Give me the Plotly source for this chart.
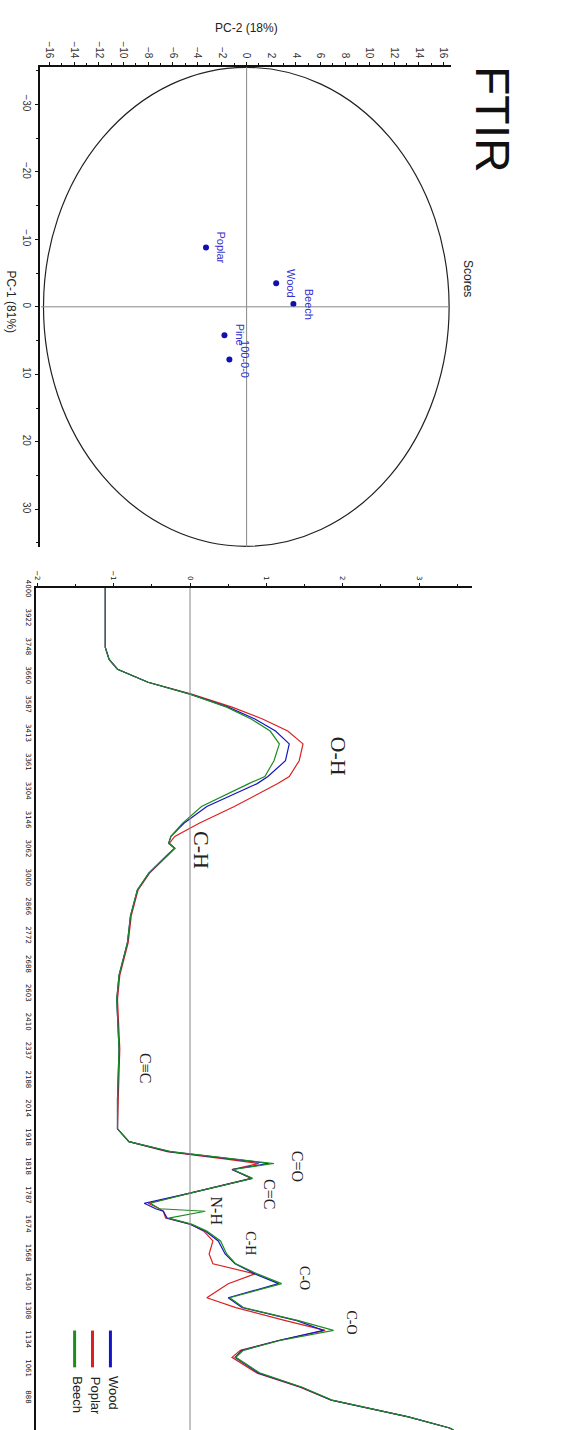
import plotly.graph_objects as go

W, H = 562, 1430

# ---------------- PCA scores data ----------------
score_names = ["Poplar", "Wood", "Beech", "Pine", "100-0-0"]
pc2_scores = [-3.3, 2.4, 3.8, -1.8, -1.4]
pc1_scores = [-8.8, -3.5, -0.4, 4.2, 7.8]

# ---------------- FTIR spectra data ----------------
wavenumber = [4000, 3763, 3715, 3676, 3624, 3577, 3525, 3478, 3430, 3379, 3312, 3249, 3221,
              3130, 3063, 3011, 2984, 2964, 2936, 2865, 2798, 2695, 2588, 2458, 2363, 2165,
              1967, 1848, 1797, 1757, 1726, 1710, 1686, 1651, 1592, 1552, 1530, 1520, 1493,
              1469, 1441, 1402, 1350, 1311, 1271, 1232, 1176, 1137, 1085, 1046, 1006, 967,
              939, 876, 820, 769, 702, 658, 650]
wood = [-1.11, -1.11, -1.06, -0.95, -0.55, 0.0, 0.50, 0.85, 1.12, 1.30, 1.25, 1.02, 0.88,
        0.22, -0.08, -0.25, -0.28, -0.20, -0.30, -0.54, -0.69, -0.78, -0.82, -0.93, -0.96, -0.93,
        -0.95, -0.95, -0.80, -0.27, 0.59, 1.03, 0.55, 0.81, 0.0, -0.60, -0.45, -0.35, -0.30,
        0.0, 0.20, 0.37, 0.46, 0.59, 0.85, 1.16, 0.50, 0.68, 1.40, 1.75, 1.16, 0.68,
        0.59, 0.90, 1.46, 1.85, 2.86, 3.40, 3.45]
poplar = [-1.11, -1.11, -1.06, -0.95, -0.55, 0.02, 0.55, 0.95, 1.28, 1.48, 1.43, 1.30, 1.15,
          0.58, 0.12, -0.20, -0.27, -0.20, -0.29, -0.53, -0.68, -0.77, -0.81, -0.92, -0.95, -0.92,
          -0.94, -0.95, -0.80, -0.30, 0.50, 0.90, 0.55, 0.80, 0.0, -0.55, -0.40, -0.35, -0.32,
          0.0, 0.18, 0.30, 0.25, 0.30, 0.85, 0.50, 0.22, 0.60, 1.25, 1.77, 1.16, 0.66,
          0.55, 0.88, 1.44, 1.85, 2.86, 3.40, 3.45]
beech = [-1.11, -1.11, -1.06, -0.95, -0.55, 0.0, 0.48, 0.80, 1.05, 1.17, 1.10, 0.98, 0.77,
         0.15, -0.10, -0.25, -0.28, -0.20, -0.30, -0.54, -0.69, -0.78, -0.82, -0.93, -0.96, -0.93,
         -0.95, -0.95, -0.80, -0.25, 0.62, 1.10, 0.56, 0.82, 0.0, -0.52, -0.40, 0.20, -0.28,
         0.02, 0.22, 0.40, 0.48, 0.60, 0.88, 1.20, 0.52, 0.70, 1.42, 1.88, 1.18, 0.70,
         0.60, 0.92, 1.47, 1.86, 2.86, 3.40, 3.45]

series_names = ["Wood", "Poplar", "Beech"]
series_colors = ["#1414c8", "#dc2020", "#1e8c1e"]

wn_tick_labels = ["4000", "3922", "3748", "3660", "3587", "3413", "3361", "3304", "3146", "3062",
                  "3000", "2866", "2772", "2688", "2603", "2410", "2337", "2188", "2014", "1918",
                  "1818", "1787", "1674", "1568", "1430", "1308", "1134", "1061", "888", "748"]

# band assignments: (label, x value, wavenumber, font size)
band_text = ["O-H", "C-H", "C\u2261C", "C=O", "C=C", "N-H", "C-H", "C-O", "C-O"]
band_xval = [1.94, 0.16, -0.59, 1.41, 1.04, 0.35, 0.78, 1.49, 2.11]
band_wn = [3332, 2956, 2090, 1698, 1587, 1520, 1394, 1255, 1077]
band_size = [22, 22, 16, 16, 16, 16, 14, 14, 14]


def px_x(px):
    return px / W


def px_y(py):
    return 1 - py / H


fig = go.Figure()


def paper_text(text, xp, yp, size, angle=90, family="Arial", color="#222"):
    fig.add_annotation(x=px_x(xp), y=px_y(yp), xref="paper", yref="paper", text=text,
                       showarrow=False, textangle=angle, xanchor="center", yanchor="middle",
                       font=dict(family=family, size=size, color=color))


# ---- PCA scores ----
fig.add_trace(go.Scatter(x=pc2_scores, y=pc1_scores, mode="markers",
                         marker=dict(color="#1010b0", size=6), xaxis="x", yaxis="y",
                         showlegend=False, hoverinfo="skip"))
for nm, x, y in zip(score_names, pc2_scores, pc1_scores):
    fig.add_annotation(x=x, y=y, xref="x", yref="y", text=nm, showarrow=False,
                       textangle=90, xshift=15, xanchor="center", yanchor="middle",
                       font=dict(family="Arial", size=11, color="#3030d0"))

# ellipse and cross lines
fig.add_shape(type="circle", xref="x", yref="y", x0=-16.5, x1=16.45, y0=-35.5, y1=35.5,
              line=dict(color="#222", width=1.2))
fig.add_shape(type="line", xref="x", yref="y", x0=0, x1=0, y0=-35.6, y1=35.6,
              line=dict(color="#888", width=1))
fig.add_shape(type="line", xref="x", yref="y", x0=-16.7, x1=16.45, y0=0, y1=0,
              line=dict(color="#888", width=1))

# ---- FTIR spectra ----
order = [1, 0, 2]
all_vals = [wood, poplar, beech]
for i in order:
    fig.add_trace(go.Scatter(x=all_vals[i], y=wavenumber, mode="lines",
                             line=dict(color=series_colors[i], width=1.2),
                             xaxis="x2", yaxis="y2", showlegend=False, hoverinfo="skip"))
fig.add_shape(type="line", xref="x2", yref="y2", x0=0, x1=0, y0=650, y1=4000,
              line=dict(color="#888", width=1))

for t, xv, yv, fs in zip(band_text, band_xval, band_wn, band_size):
    fig.add_annotation(x=xv, y=yv, xref="x2", yref="y2", text=t, showarrow=False, textangle=90,
                       xanchor="center", yanchor="middle",
                       font=dict(family="Liberation Serif", size=fs, color="#222"))

# legend drawn manually (rotated)
leg_x = [108, 90, 72]
for nm, col, lx in zip(series_names, series_colors, leg_x):
    fig.add_shape(type="line", xref="paper", yref="paper", x0=px_x(lx), x1=px_x(lx),
                  y0=px_y(1330), y1=px_y(1367), line=dict(color=col, width=3))
    fig.add_annotation(x=px_x(lx + 3), y=px_y(1374), xref="paper", yref="paper", text=nm,
                       showarrow=False, textangle=90, xanchor="center", yanchor="top",
                       font=dict(family="Arial", size=13, color="#222"))

# titles
paper_text("FTIR", 492, 112, 48, color="#111")
paper_text("Scores", 467, 272, 12)
paper_text("PC-2 (18%)", 245, 20, 12, angle=0)
paper_text("PC-1 (81%)", 8, 296, 12)

tick_pos_px = [585 + k * 29.03 for k in range(len(wn_tick_labels))]
wn_tickvals = [4000 - (p - 583) * 3350 / 847 for p in tick_pos_px]

fig.update_layout(
    width=W, height=H, margin=dict(l=0, r=0, t=0, b=0),
    paper_bgcolor="white", plot_bgcolor="white", showlegend=False,
    xaxis=dict(domain=[px_x(37), px_x(450)], range=[-16.8, 16.57], side="top", anchor="y",
               showline=True, linecolor="#111", linewidth=1.5, showgrid=False, zeroline=False,
               tickmode="linear", tick0=0, dtick=2, ticks="outside", ticklen=3, tickcolor="#111",
               tickangle=90, tickfont=dict(family="Arial", size=10, color="#333"),
               minor=dict(dtick=1, ticks="outside", ticklen=2, tickcolor="#111")),
    yaxis=dict(domain=[px_y(542), px_y(59)], range=[35.6, -35.6], anchor="x",
               showline=True, linecolor="#111", linewidth=1.5, showgrid=False, zeroline=False,
               tickmode="linear", tick0=0, dtick=10, ticks="outside", ticklen=3, tickcolor="#111",
               tickangle=90, tickfont=dict(family="Arial", size=10, color="#333"),
               minor=dict(dtick=5, ticks="outside", ticklen=2, tickcolor="#111")),
    xaxis2=dict(domain=[px_x(33), px_x(472)], range=[-2.02, 3.70], side="top", anchor="y2",
                showline=True, linecolor="#111", linewidth=1.5, showgrid=False, zeroline=False,
                tickmode="linear", tick0=0, dtick=1, ticks="outside", ticklen=3, tickcolor="#111",
                tickangle=90, tickfont=dict(family="DejaVu Sans", size=7, color="#111"),
                minor=dict(dtick=0.5, ticks="outside", ticklen=2, tickcolor="#111")),
    yaxis2=dict(domain=[0, px_y(583)], range=[650, 4000], anchor="x2",
                showline=True, linecolor="#111", linewidth=1.5, showgrid=False, zeroline=False,
                tickmode="array", tickvals=wn_tickvals, ticktext=wn_tick_labels,
                ticks="", tickangle=90, tickfont=dict(family="DejaVu Sans", size=7, color="#111")),
)

fig.write_html("out.html")
